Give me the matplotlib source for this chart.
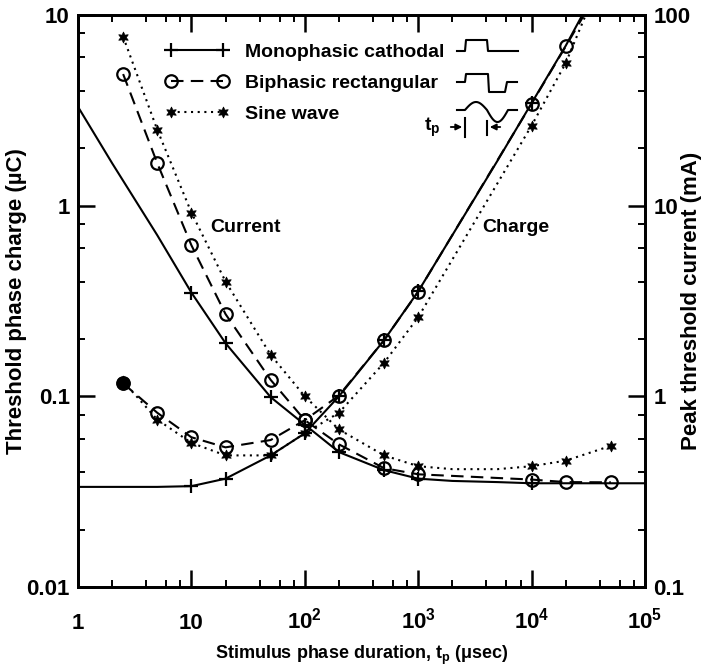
import numpy as np
import matplotlib
matplotlib.use('Agg')
import matplotlib.pyplot as plt
from matplotlib.ticker import LogLocator, NullFormatter, FixedLocator, FixedFormatter
from matplotlib.lines import Line2D

plt.rcParams['font.family'] = ['Liberation Sans', 'DejaVu Sans']
plt.rcParams['font.weight'] = 'bold'
plt.rcParams['axes.labelweight'] = 'bold'
plt.rcParams['mathtext.fontset'] = 'custom'
plt.rcParams['mathtext.rm'] = 'Liberation Sans:bold'
plt.rcParams['mathtext.it'] = 'Liberation Sans:bold'
plt.rcParams['mathtext.bf'] = 'Liberation Sans:bold'

# monophasic cathodal: charge (uC) and current (mA) vs duration (usec)
mono_q_t = [1, 2, 5, 10, 20, 50, 100, 200, 500, 1000, 2000, 5000, 10000, 20000, 28000]
mono_q = [0.0335, 0.0335, 0.0335, 0.0338, 0.037, 0.049, 0.064, 0.10, 0.197, 0.355, 0.70, 1.72, 3.45, 6.9, 10.0]
mono_i_t = [1, 2, 5, 10, 20, 50, 100, 200, 500, 1000, 2000, 5000, 10000, 100000]
mono_i = [33, 16.7, 7.0, 3.5, 1.9, 0.99, 0.71, 0.51, 0.41, 0.37, 0.36, 0.355, 0.35, 0.35]
mono_q_marks = [3, 4, 5, 6, 7, 8, 9, 12]
mono_i_marks = [3, 4, 5, 6, 7, 8, 9, 12]

# biphasic rectangular
biph_q_t = [2.5, 5, 10, 20, 50, 100, 200, 500, 1000, 10000, 20000, 29000]
biph_q = [0.117, 0.082, 0.061, 0.054, 0.059, 0.075, 0.101, 0.197, 0.354, 3.43, 6.85, 10.0]
biph_i_t = [2.5, 5, 10, 20, 50, 100, 200, 500, 1000, 10000, 20000, 50000]
biph_i = [49, 16.7, 6.2, 2.7, 1.22, 0.75, 0.56, 0.42, 0.39, 0.366, 0.355, 0.354]

# sine wave
sine_q_t = [2.5, 5, 10, 20, 50, 100, 200, 500, 1000, 10000, 20000, 30000]
sine_q = [0.12, 0.0755, 0.057, 0.049, 0.049, 0.064, 0.082, 0.15, 0.26, 2.63, 5.6, 10.0]
sine_i_t = [2.5, 5, 10, 20, 50, 100, 200, 500, 1000, 2000, 5000, 10000, 20000, 50000]
sine_i = [77, 25, 9.2, 4.0, 1.65, 1.0, 0.67, 0.49, 0.43, 0.415, 0.415, 0.43, 0.46, 0.55]
sine_i_marks = [0, 1, 2, 3, 4, 5, 6, 7, 8, 11, 12, 13]

x_ticks = [1, 10, 100, 1000, 10000, 100000]
x_labels = ['1', '10', r'$\mathregular{10^2}$', r'$\mathregular{10^3}$',
            r'$\mathregular{10^4}$', r'$\mathregular{10^5}$']

W, H = 708, 667
def fx(x):
    return x / W
def fy(y):
    return 1 - y / H

fig = plt.figure(figsize=(W / 100, H / 100), dpi=100)
ax = fig.add_axes([78 / W, 80 / H, 567 / W, 572 / H])
ax.set_xscale('log')
ax.set_yscale('log')
ax.set_xlim(1, 1e5)
ax.set_ylim(0.01, 10)
ax2 = ax.twinx()
ax2.set_yscale('log')
ax2.set_ylim(0.1, 100)

lw = 1.5
dash = (0, (6, 3.5))
dot = (0, (1, 2.2))
star = (6, 1, 0)
star_ms = 8

# charge curves (left axis)
ax.plot(sine_q_t, sine_q, color='k', lw=lw, ls=dot, marker=star, ms=star_ms, mew=0.5,
        markevery=list(range(11)))
ax.plot(biph_q_t, biph_q, color='k', lw=lw, ls=dash, marker='o', ms=9, mew=1.6,
        mfc='none', markevery=list(range(11)))
ax.plot(biph_q_t[:1], biph_q[:1], 'ko', ms=9)
ax.plot(mono_q_t, mono_q, color='k', lw=lw, marker='+', ms=10, mew=1.6,
        markevery=mono_q_marks)

# current curves (right axis)
ax2.plot(sine_i_t, sine_i, color='k', lw=lw, ls=dot, marker=star, ms=star_ms, mew=0.5,
         markevery=sine_i_marks)
ax2.plot(biph_i_t, biph_i, color='k', lw=lw, ls=dash, marker='o', ms=9, mew=1.6,
         mfc='none')
ax2.plot(mono_i_t, mono_i, color='k', lw=lw, marker='+', ms=10, mew=1.6,
         markevery=mono_i_marks)

# axes styling
for a in (ax, ax2):
    for s in a.spines.values():
        s.set_linewidth(2.0)
ax.xaxis.set_major_locator(FixedLocator(x_ticks))
ax.xaxis.set_major_formatter(FixedFormatter(x_labels))
ax.xaxis.set_minor_locator(LogLocator(base=10, subs=(2, 4, 6, 8)))
ax.xaxis.set_minor_formatter(NullFormatter())
ax.yaxis.set_minor_locator(LogLocator(base=10, subs=(2, 4, 6, 8)))
ax.yaxis.set_minor_formatter(NullFormatter())
ax2.yaxis.set_minor_locator(LogLocator(base=10, subs=(2, 4, 6, 8)))
ax2.yaxis.set_minor_formatter(NullFormatter())
ax.set_yticks([0.01, 0.1, 1, 10])
ax.set_yticklabels(['0.01', '0.1', '1', '10'])
ax2.set_yticks([0.1, 1, 10, 100])
ax2.set_yticklabels(['0.1', '1', '10', '100'])

ax.tick_params(which='major', direction='in', length=12, width=1.8, labelsize=16,
               top=True, right=False, pad=6)
ax.tick_params(which='minor', direction='in', length=5, width=1.4, top=True, right=False)
ax.tick_params(axis='x', which='major', pad=30)
for lab in ax.get_xticklabels():
    lab.set_verticalalignment('baseline')
ax2.tick_params(which='major', direction='in', length=12, width=1.8, labelsize=16, pad=6)
ax2.tick_params(which='minor', direction='in', length=5, width=1.4)

ax.set_xlabel(r'Stimulus phase duration, t$_\mathregular{p}$ ($\mu$sec)', fontsize=13)
ax.xaxis.set_label_coords(0.5, -0.1)
ax.set_ylabel('Threshold phase charge (µC)', fontsize=16)
ax.yaxis.set_label_coords(-0.09, 0.5)
ax2.set_ylabel('Peak threshold current (mA)', fontsize=16)
ax2.yaxis.set_label_coords(1.063, 0.5)

ax.text(29.7, 0.77, 'Current', fontsize=14, ha='center', va='center')
ax.text(7300, 0.77, 'Charge', fontsize=14, ha='center', va='center')

# legend
handles = [
    Line2D([], [], color='k', lw=lw, marker='+', ms=10, mew=1.6),
    Line2D([], [], color='k', lw=lw, ls=dash, marker='o', ms=9, mew=1.6, mfc='none'),
    Line2D([], [], color='k', lw=lw, ls=dot, marker=star, ms=star_ms, mew=0.5),
]
ax.legend(handles, ['Monophasic cathodal', 'Biphasic rectangular', 'Sine wave'],
          loc='upper left', bbox_to_anchor=((165 - 78) / 567, (587 - 43) / 572),
          frameon=False, fontsize=14, numpoints=2, handlelength=3.3,
          handletextpad=0.8, borderpad=0, borderaxespad=0, labelspacing=0.7)

# waveform icons
def icon(xs, ys):
    fig.add_artist(Line2D([fx(v) for v in xs], [fy(v) for v in ys],
                          transform=fig.transFigure, color='k', lw=1.5))

icon([457, 465, 466, 487, 488, 518], [51, 51, 40, 40, 51, 51])
icon([457, 465, 466, 488, 489, 505, 507, 517], [82, 82, 74, 74, 92, 92, 82, 82])
ph = np.linspace(0, 1, 40)
sx = [457, 465] + list(465 + 22 * ph) + list(487 + 21 * ph) + [517]
sy = [110, 110] + list(110 - 8 * np.sin(np.pi * ph)) + list(110 + 12 * np.sin(np.pi * ph)) + [110]
icon(sx, sy)

fig.text(fx(424), fy(127), r't$_\mathregular{p}$', fontsize=14, ha='left', va='center')
for x0, x1 in ((448, 465), (503, 487)):
    fig.add_artist(matplotlib.patches.FancyArrowPatch(
        (fx(x0), fy(127)), (fx(x1), fy(127)), transform=fig.transFigure,
        arrowstyle='-|>', mutation_scale=9, lw=1.3, color='k'))
icon([465, 465], [118, 137])
icon([487, 487], [121, 135])

plt.savefig('out.png', dpi=100)
